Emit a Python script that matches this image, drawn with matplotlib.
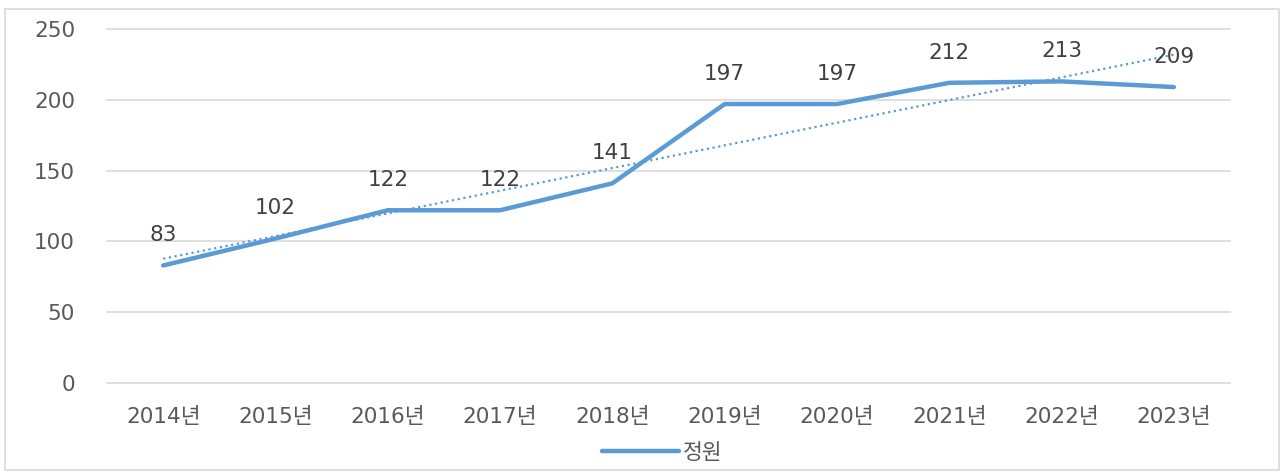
import matplotlib.pyplot as plt
import numpy as np
from matplotlib.patches import Rectangle

years = ["2014년", "2015년", "2016년", "2017년", "2018년",
         "2019년", "2020년", "2021년", "2022년", "2023년"]
capacity = [83, 102, 122, 122, 141, 197, 197, 212, 213, 209]
series_name = "정원"

# DejaVu for the wide digits, Noto CJK for the Hangul
plt.rcParams['font.family'] = ['DejaVu Sans', 'Noto Sans CJK KR']

line_color = '#5B9BD5'
text_color = '#595959'

fig = plt.figure(figsize=(12.83, 4.72), dpi=100)
ax = fig.add_axes([107 / 1283, 1 - 383 / 472, (1230 - 107) / 1283, (383 - 29) / 472])

x = np.arange(len(years))
ax.plot(x, capacity, color=line_color, linewidth=3.2, solid_capstyle='round',
        solid_joinstyle='round', label=series_name, zorder=3)

# linear trend line
slope, intercept = np.polyfit(x, capacity, 1)
ax.plot(x, slope * x + intercept, color=line_color, linewidth=1.6,
        linestyle=(0, (1, 1.6)), zorder=2)

for xi, v in zip(x, capacity):
    ax.annotate(str(v), (xi, v), xytext=(0, 14.5), textcoords='offset points',
                ha='center', va='bottom', fontsize=15.5, color='#404040')

ax.set_xlim(-0.5, len(years) - 0.5)
ax.set_ylim(0, 250)
ax.set_yticks(range(0, 251, 50))
ax.set_xticks(x)
ax.set_xticklabels(years)
ax.tick_params(axis='both', length=0, labelsize=15.5, labelcolor=text_color)
ax.tick_params(axis='y', pad=23)
ax.tick_params(axis='x', pad=17)

ax.grid(axis='y', color='#D9D9D9', linewidth=1.2)
ax.set_axisbelow(True)
for gl in ax.get_ygridlines():
    gl.set_clip_on(False)
for s in ax.spines.values():
    s.set_visible(False)

fig.legend(loc='center', bbox_to_anchor=(662 / 1283, 1 - 453 / 472),
           frameon=False, fontsize=15.5, handlelength=3.6,
           handletextpad=0.15, labelcolor=text_color)

fig.patches.append(Rectangle((5 / 1283, 2 / 472), 1274 / 1283, 461 / 472,
                             transform=fig.transFigure, fill=False,
                             edgecolor='#D9D9D9', linewidth=1.2))

fig.savefig('out.png', dpi=100)
